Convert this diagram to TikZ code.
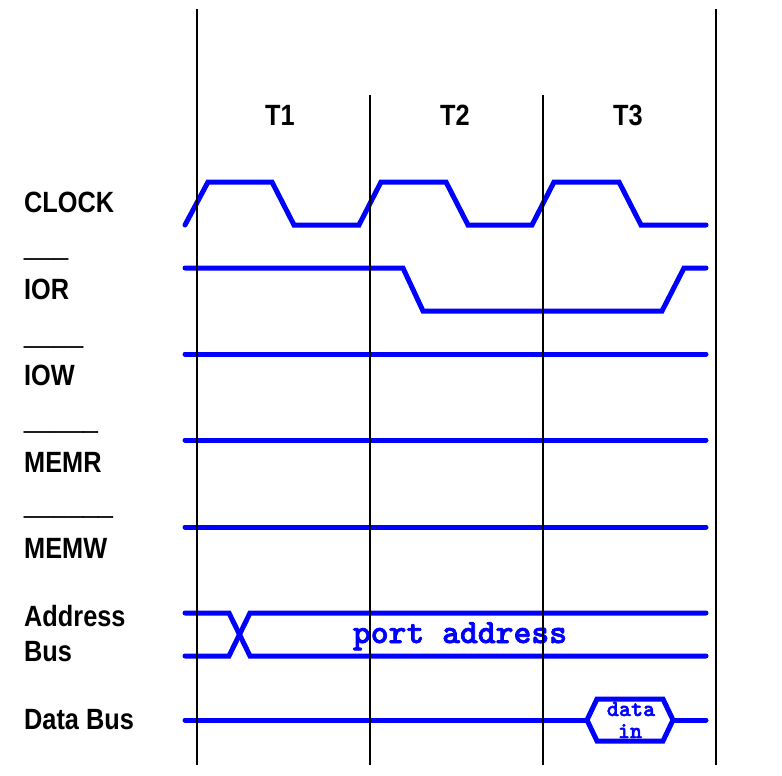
\documentclass[tikz,border=0pt]{standalone}
\usepackage{fontspec}
\newfontfamily\labfont[FakeStretch=0.864]{Liberation Sans}
\newfontfamily\barfont[FakeStretch=0.864,FakeBold=1.5]{Liberation Sans}
\newfontfamily\codefont[FakeBold=2]{lmmonolt10-bold.otf}
\newcommand\ubar{\_\kern0.8pt}
\begin{document}
\begin{tikzpicture}[x=1pt,y=-1pt,
  lab/.style={inner sep=0pt, anchor=base west, font=\labfont\bfseries\fontsize{29.3}{32}\selectfont},
  barlab/.style={inner sep=0pt, anchor=base west, font=\barfont\bfseries\fontsize{29.3}{32}\selectfont},
  tlab/.style={inner sep=0pt, anchor=base, font=\labfont\bfseries\fontsize{29.3}{32}\selectfont},
  code/.style={inner sep=0pt, anchor=base, text=blue, font=\codefont\fontsize{34}{36}\selectfont},
  smallcode/.style={inner sep=0pt, anchor=base, text=blue, font=\codefont\fontsize{23}{25}\selectfont},
  sig/.style={blue, line width=5pt, line cap=round},
  gridline/.style={black, line width=1.5pt}]
\useasboundingbox (0,0) rectangle (782,776);

% labels
\node[tlab] (t1) at (280,125) {T1};
\node[tlab] (t2) at (455,125) {T2};
\node[tlab] (t3) at (628,125) {T3};

\node[lab] (clk) at (24,212) {CLOCK};
\node[barlab] (iorbar) at (24,256) {\ubar\ubar\_};
\node[lab] (ior) at (24,299) {IOR};
\node[barlab] (iowbar) at (24,344) {\ubar\ubar\ubar\_};
\node[lab] (iow) at (24,385) {IOW};
\node[barlab] (memrbar) at (24,429) {\ubar\ubar\ubar\ubar\_};
\node[lab] (memr) at (24,472) {MEMR};
\node[barlab] (memwbar) at (24,514) {\ubar\ubar\ubar\ubar\ubar\_};
\node[lab] (memw) at (24,558) {MEMW};
\node[lab] (addr) at (24,626) {Address};
\node[lab] (bus) at (24,661) {Bus};
\node[lab] (data) at (24,729.5) {Data Bus};

% signals
\draw[sig] (185,225)--(208,182)--(272,182)--(294,225)--(359,225)--(381,182)--(446,182)--(468,225)--(532,225)--(554,182)--(619,182)--(641,225)--(706,225);
\draw[sig] (185,268)--(403,268)--(423,311)--(662,311)--(684,268)--(706,268);
\draw[sig] (185,354)--(706,354);
\draw[sig] (185,440)--(706,440);
\draw[sig] (185,527)--(706,527);
\draw[sig] (185,613)--(229,613)--(250,656)--(706,656);
\draw[sig] (185,656)--(229,656)--(250,613)--(706,613);
\node[code] (port) at (460,643) {port address};
\draw[sig] (185,720)--(587,720);
\draw[sig] (587,720)--(597,699)--(663,699)--(673,720)--(663,741)--(597,741)--cycle;
\draw[sig] (673,720)--(706,720);
\node[smallcode] (din1) at (631,716) {data};
\node[smallcode] (din2) at (630,738) {in};

% period lines
\draw[gridline] (197,9)--(197,765);
\draw[gridline] (370,95)--(370,765);
\draw[gridline] (543,95)--(543,765);
\draw[gridline] (716,9)--(716,765);
\end{tikzpicture}
\end{document}
